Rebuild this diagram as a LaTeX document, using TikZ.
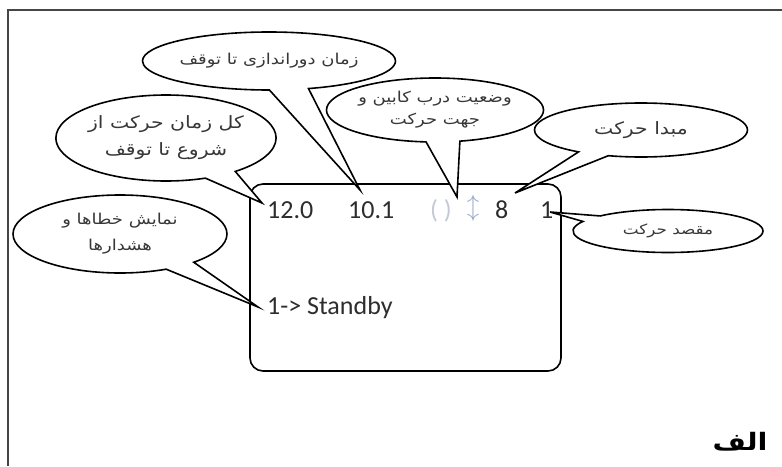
\documentclass[tikz,border=0pt]{standalone}
\usepackage{fontspec}
\setmainfont{Carlito}
\newfontfamily\arfont[Script=Arabic,FakeStretch=1.2]{DejaVu Sans}
\usepackage{tikz}
\usetikzlibrary{shapes.callouts}
\TeXXeTstate=1
\definecolor{txc}{RGB}{45,45,45}
\definecolor{bubc}{RGB}{55,55,55}
\definecolor{parc}{RGB}{195,200,212}
\definecolor{arwc}{RGB}{150,168,198}
\definecolor{frc}{RGB}{70,70,70}

\begin{document}
\begin{tikzpicture}[x=1pt,y=-1pt,
  bubble/.style={ellipse callout,draw,line width=1.6pt,fill=white,inner sep=0pt,
    callout pointer arc=18,text=bubc,align=center,font=\arfont\fontsize{15}{26}\selectfont},
  lcdtxt/.style={anchor=base west,inner sep=0pt,text=txc,font=\fontsize{26}{30}\selectfont}]
  \useasboundingbox (0,0) rectangle (782,466);
  % page frame (only left and top edges visible)
  \draw[frc,line width=1.8pt] (8,466) -- (8,10) -- (782,10);
  % display panel
  \draw[line width=1.6pt,rounded corners=13pt] (250,184) rectangle (561,371);
  \node[lcdtxt] (n120) at (267,218) {12.0};
  \node[lcdtxt] (n101) at (348,218) {10.1};
  \node[lcdtxt,text=parc] (ndoor) at (430,218) {( )};
  \node[inner sep=0pt,text=arwc,font=\fontsize{28}{30}\selectfont] (ndir) at (473,208) {$\updownarrow$};
  \node[lcdtxt] (norig) at (495,218) {8};
  \node[lcdtxt] (ndest) at (540,218) {1};
  \node[lcdtxt] (nstat) at (267,314) {1-> Standby};
  % pointer tips
  \coordinate (tdur) at (360,190);
  \coordinate (ttot) at (262,203);
  \coordinate (tdoor) at (457,197);
  \coordinate (torig) at (515,193);
  \coordinate (tdest) at (550,212);
  \coordinate (terr) at (258,307);
  % callouts
  \node[bubble,minimum width=212pt,minimum height=58pt,callout absolute pointer={(tdur)}] (cdur) at (269,61)
    {\beginR زمان دوراندازی تا توقف\endR};
  \node[bubble,minimum width=208pt,minimum height=86pt,callout absolute pointer={(ttot)},
    font=\arfont\fontsize{17}{27}\selectfont] (ctot) at (166,138)
    {\beginR کل زمان حرکت از\endR\\\beginR شروع تا توقف\endR};
  \node[bubble,minimum width=204pt,minimum height=64pt,callout absolute pointer={(tdoor)},
    font=\arfont\fontsize{15}{22}\selectfont] (cdoor) at (435,110)
    {\beginR وضعیت درب کابین و\endR\\\beginR جهت حرکت\endR};
  \node[bubble,minimum width=213pt,minimum height=54pt,callout absolute pointer={(torig)},
    font=\arfont\fontsize{17}{20}\selectfont] (corig) at (641,130)
    {\beginR مبدا حرکت\endR};
  \node[bubble,minimum width=190pt,minimum height=43pt,callout absolute pointer={(tdest)},
    font=\arfont\fontsize{14}{16}\selectfont] (cdest) at (668,231)
    {\beginR مقصد حرکت\endR};
  \node[bubble,minimum width=214pt,minimum height=78pt,callout absolute pointer={(terr)}] (cerr) at (120,234)
    {\beginR نمایش خطاها و\endR\\\beginR هشدارها\endR};
  % figure tag
  \node[font=\arfont\bfseries\fontsize{24}{28}\selectfont,inner sep=0pt] (tag) at (740,442) {\beginR الف\endR};
\end{tikzpicture}
\end{document}
